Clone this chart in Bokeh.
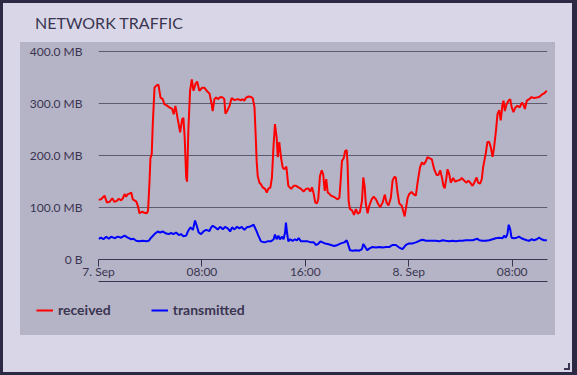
import pandas as pd
from bokeh.plotting import figure
from bokeh.layouts import column
from bokeh.models import (Range1d, FixedTicker, DatetimeAxis, Div, Legend, LegendItem,
                          ColumnDataSource, GlobalInlineStyleSheet)
from bokeh.embed import file_html
from bokeh.resources import INLINE

# ---------------- data ----------------
start_date = "2023-09-07 00:00"

received_minutes = [
    0, 12, 28, 39, 51, 64, 74, 85, 94, 105, 113, 121, 128, 136, 144, 152, 159, 175, 183, 190,
    201, 213, 224, 230, 237, 241, 247, 252, 260, 268, 278, 288, 298, 306, 317, 329, 342, 349, 357, 368,
    379, 388, 394, 400, 407, 411, 417, 425, 433, 441, 450, 458, 468, 481, 492, 504, 515, 524, 530, 538,
    546, 554, 566, 577, 584, 589, 597, 608, 618, 631, 646, 662, 669, 677, 685, 696, 708, 716, 724, 730,
    734, 739, 747, 754, 762, 773, 781, 788, 798, 805, 812, 819, 827, 832, 839, 847, 855, 863, 872, 881,
    894, 906, 917, 928, 940, 952, 963, 974, 983, 991, 999, 1006, 1014, 1020, 1028, 1036, 1043, 1050, 1057, 1064,
    1071, 1079, 1090, 1099, 1110, 1118, 1124, 1130, 1138, 1145, 1152, 1156, 1161, 1167, 1176, 1186, 1195, 1204, 1213, 1223,
    1229, 1235, 1241, 1249, 1257, 1268, 1277, 1288, 1298, 1308, 1319, 1329, 1337, 1346, 1357, 1365, 1373, 1380, 1388, 1396,
    1407, 1414, 1421, 1427, 1435, 1442, 1453, 1462, 1473, 1481, 1492, 1501, 1510, 1520, 1527, 1538, 1547, 1558, 1569, 1578,
    1586, 1594, 1601, 1607, 1615, 1620, 1628, 1635, 1646, 1656, 1666, 1677, 1686, 1697, 1708, 1717, 1725, 1736, 1744, 1755,
    1762, 1771, 1779, 1785, 1792, 1798, 1805, 1813, 1821, 1829, 1836, 1844, 1852, 1860, 1867, 1875, 1880, 1886, 1894, 1903,
    1911, 1918, 1926, 1935, 1945, 1955, 1965, 1972, 1979, 1988, 1999, 2010, 2022, 2034, 2045, 2056, 2068, 2081,
]
received_mb = [
    115, 116, 123, 110, 111, 118, 111, 113, 117, 114, 118, 126, 121, 126, 127, 129, 116, 112, 103, 89,
    92, 90, 89, 94, 152, 195, 203, 261, 331, 335, 337, 312, 309, 299, 297, 293, 290, 280, 296, 270,
    245, 270, 273, 235, 158, 150, 248, 325, 347, 325, 338, 343, 325, 331, 331, 324, 320, 302, 286, 309,
    312, 309, 313, 312, 309, 281, 286, 296, 311, 307, 309, 307, 309, 306, 312, 314, 313, 311, 293, 235,
    190, 161, 148, 145, 139, 136, 129, 136, 139, 158, 216, 261, 235, 197, 226, 197, 177, 174, 179, 142,
    136, 142, 142, 139, 136, 131, 136, 137, 131, 139, 126, 110, 108, 116, 161, 172, 164, 132, 155, 129,
    127, 123, 121, 119, 116, 119, 152, 190, 195, 209, 211, 184, 113, 97, 95, 86, 97, 88, 91, 113,
    158, 142, 107, 89, 104, 116, 121, 116, 107, 101, 110, 125, 110, 104, 119, 152, 159, 158, 129, 108,
    104, 94, 83, 99, 119, 126, 130, 126, 123, 148, 177, 187, 183, 190, 197, 195, 193, 174, 163, 163,
    172, 158, 142, 137, 158, 174, 164, 148, 157, 150, 152, 153, 157, 152, 148, 152, 148, 142, 148, 158,
    148, 146, 155, 177, 193, 206, 226, 227, 216, 198, 216, 245, 280, 288, 268, 299, 306, 286, 299, 306,
    309, 293, 284, 293, 296, 293, 302, 299, 290, 306, 309, 313, 311, 312, 313, 317, 320, 325,
]

transmitted_minutes = [
    0, 12, 23, 36, 48, 59, 74, 90, 105, 121, 136, 152, 162, 175, 190, 206, 221, 233, 244, 260,
    275, 286, 298, 314, 326, 337, 348, 360, 373, 383, 394, 407, 416, 427, 438, 448, 456, 465, 476, 487,
    500, 515, 523, 530, 541, 553, 566, 577, 587, 600, 611, 620, 631, 643, 654, 665, 677, 688, 700, 711,
    720, 731, 742, 754, 770, 785, 801, 813, 819, 827, 835, 842, 852, 859, 866, 870, 875, 881, 890, 901,
    912, 921, 929, 940, 955, 971, 986, 999, 1009, 1020, 1030, 1040, 1051, 1064, 1079, 1094, 1110, 1125, 1141, 1152,
    1158, 1167, 1180, 1195, 1210, 1223, 1229, 1238, 1247, 1260, 1272, 1288, 1303, 1319, 1334, 1349, 1365, 1380, 1396, 1411,
    1427, 1442, 1458, 1473, 1489, 1504, 1520, 1535, 1550, 1566, 1581, 1597, 1612, 1628, 1643, 1659, 1674, 1690, 1705, 1720,
    1736, 1751, 1759, 1767, 1782, 1798, 1813, 1829, 1844, 1860, 1875, 1883, 1890, 1898, 1904, 1911, 1917, 1929, 1941, 1952,
    1963, 1975, 1988, 1999, 2009, 2022, 2034, 2045, 2056, 2068, 2081,
]
transmitted_mb = [
    40, 42, 39, 44, 40, 44, 41, 44, 42, 46, 42, 39, 40, 36, 35, 36, 35, 36, 42, 49,
    54, 52, 54, 50, 49, 51, 49, 52, 47, 49, 45, 46, 55, 62, 57, 75, 65, 52, 49, 54,
    57, 55, 62, 65, 62, 58, 63, 58, 63, 60, 54, 62, 58, 63, 60, 63, 57, 62, 63, 65,
    67, 57, 46, 35, 33, 35, 35, 39, 48, 39, 46, 39, 44, 39, 52, 71, 52, 35, 39, 36,
    39, 37, 41, 35, 35, 35, 33, 33, 28, 30, 35, 33, 31, 30, 28, 26, 28, 31, 33, 37,
    30, 18, 17, 18, 17, 20, 30, 24, 18, 22, 24, 23, 24, 23, 24, 24, 28, 28, 23, 20,
    28, 31, 31, 33, 36, 38, 36, 36, 36, 36, 35, 37, 36, 35, 36, 35, 36, 36, 37, 37,
    37, 39, 40, 37, 36, 36, 37, 39, 41, 42, 41, 46, 42, 49, 67, 58, 42, 41, 42, 44,
    41, 39, 37, 36, 39, 37, 39, 42, 39, 37, 37,
]

y_ticks_mb = [0, 100, 200, 300, 400]
y_tick_labels = ["0 B", "100.0 MB", "200.0 MB", "300.0 MB", "400.0 MB"]
y_top_mb = 402.7
x_tick_hours = [0, 8, 16, 24, 32]
x_tick_labels = ["7. Sep", "08:00", "16:00", "8. Sep", "08:00"]
x_end_minutes = 2084
series_names = ["received", "transmitted"]
series_colors = ["#ff0000", "#0000ff"]

# ---------------- styling ----------------
DARK = "#2d2843"
CARD = "#d9d7e7"
PANEL = "#b5b3c6"
TEXT = "#3a3551"
GRID = "#5e5a70"
FONT = "Lato"

t0 = pd.Timestamp(start_date)
rx_src = ColumnDataSource(dict(t=[t0 + pd.Timedelta(minutes=m) for m in received_minutes],
                               v=received_mb))
tx_src = ColumnDataSource(dict(t=[t0 + pd.Timedelta(minutes=m) for m in transmitted_minutes],
                               v=transmitted_mb))
to_ms = lambda ts: int(ts.value // 10**6)
x_ticks_ms = [to_ms(t0 + pd.Timedelta(hours=h)) for h in x_tick_hours]
x_rng = Range1d(t0, t0 + pd.Timedelta(minutes=x_end_minutes))

# ---------------- main chart ----------------
p = figure(width=535, height=248, x_axis_type="datetime",
           x_range=x_rng, y_range=Range1d(0, y_top_mb),
           output_backend="svg", toolbar_location=None,
           min_border_left=78, min_border_right=8, min_border_top=8, min_border_bottom=31,
           background_fill_color=PANEL, border_fill_color=PANEL,
           outline_line_color=None, margin=(0, 0, 0, 17), frame_align=False,
           styles={"background-color": PANEL})

p.line("t", "v", source=rx_src, line_color=series_colors[0], line_width=2)
p.line("t", "v", source=tx_src, line_color=series_colors[1], line_width=2)

xa = p.xaxis[0]
xa.ticker = FixedTicker(ticks=x_ticks_ms)
xa.major_label_overrides = {k: v for k, v in zip(x_ticks_ms, x_tick_labels)}
xa.axis_line_color = TEXT
xa.major_tick_line_color = TEXT
xa.major_tick_out = 7
xa.major_tick_in = 0
xa.minor_tick_line_color = None
xa.minor_tick_out = 0
xa.major_label_standoff = -3
xa.major_label_text_font = FONT
xa.major_label_text_font_size = "12px"
xa.major_label_text_color = TEXT

extra = DatetimeAxis(ticker=FixedTicker(ticks=[]), axis_line_color=TEXT,
                     major_tick_line_color=None, minor_tick_line_color=None,
                     major_tick_out=0, minor_tick_out=0, major_label_standoff=0)
p.add_layout(extra, "below")

ya = p.yaxis[0]
ya.ticker = FixedTicker(ticks=y_ticks_mb)
ya.major_label_overrides = {k: v for k, v in zip(y_ticks_mb, y_tick_labels)}
ya.axis_line_color = None
ya.major_tick_line_color = None
ya.minor_tick_line_color = None
ya.major_tick_out = 0
ya.minor_tick_out = 0
ya.major_label_standoff = 16
ya.major_label_text_font = FONT
ya.major_label_text_font_size = "12px"
ya.major_label_text_color = TEXT

p.xgrid.visible = False
p.ygrid.ticker = FixedTicker(ticks=y_ticks_mb)
p.ygrid.grid_line_color = GRID

# ---------------- legend strip ----------------
p2 = figure(width=535, height=45, x_range=x_rng, y_range=Range1d(0, y_top_mb),
            x_axis_type="datetime", output_backend="svg", toolbar_location=None,
            min_border=0, min_border_left=0, min_border_right=0,
            min_border_top=0, min_border_bottom=0,
            background_fill_color=PANEL, border_fill_color=PANEL,
            outline_line_color=None, margin=(0, 0, 0, 17), frame_align=False,
            styles={"background-color": PANEL})
p2.axis.visible = False
p2.grid.visible = False
k_rx = p2.line("t", "v", source=rx_src, line_color=series_colors[0], line_width=2, visible=False)
k_tx = p2.line("t", "v", source=tx_src, line_color=series_colors[1], line_width=2, visible=False)

legend = Legend(items=[LegendItem(label=series_names[0], renderers=[k_rx]),
                       LegendItem(label=series_names[1], renderers=[k_tx])],
                location=(16, 17), orientation="horizontal",
                background_fill_alpha=0, border_line_alpha=0,
                inactive_fill_alpha=0,
                padding=0, margin=0, spacing=40, label_standoff=5,
                glyph_width=17, glyph_height=16, label_height=16,
                label_text_font=FONT, label_text_font_size="14px",
                label_text_font_style="bold", label_text_color=TEXT)
p2.add_layout(legend, "center")

title = Div(text=('<div style="font-family:Lato;font-size:16px;line-height:19px;'
                  'color:%s;white-space:nowrap;">NETWORK TRAFFIC</div>' % TEXT),
            width=300, height=29, margin=(10, 0, 0, 32))

css = GlobalInlineStyleSheet(css=(
    "html{background:%s !important;}"
    "body{margin:3px !important;padding:0 !important;width:569px !important;"
    "height:369px !important;background:%s !important;box-sizing:border-box;"
    "position:relative;}"
    "body::after{content:'';position:absolute;right:2px;bottom:2px;width:4px;height:5px;"
    "border-right:2px solid %s;border-bottom:2px solid %s;}" % (DARK, CARD, TEXT, TEXT)))

layout = column(title, p, p2, stylesheets=[css])

open("out.html", "w").write(file_html(layout, INLINE))
